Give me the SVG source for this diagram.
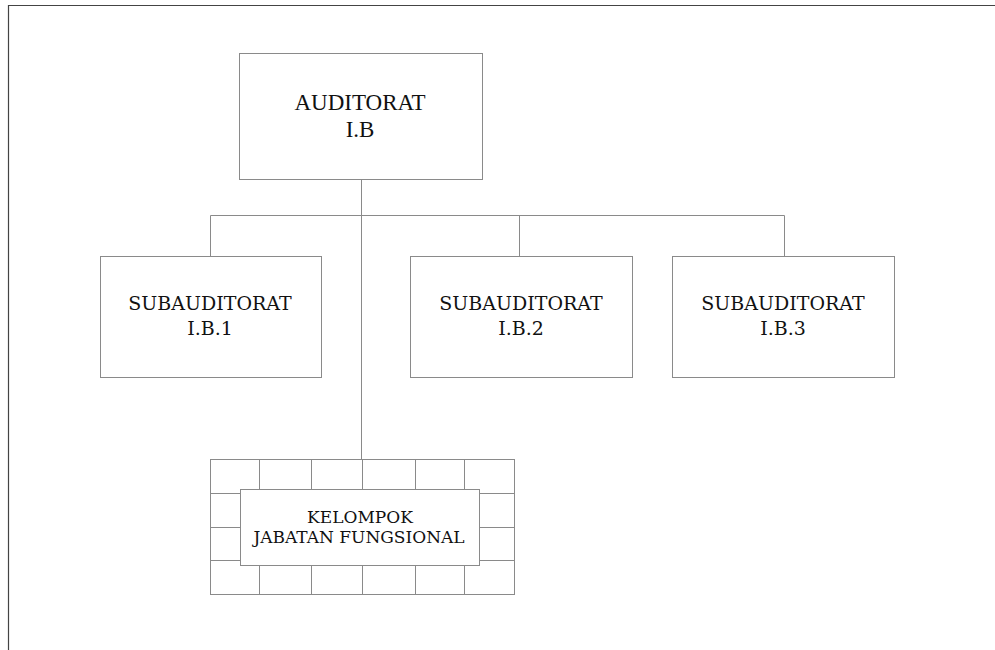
<svg xmlns="http://www.w3.org/2000/svg" width="995" height="650" viewBox="0 0 995 650">
<style>
.frame{stroke:#444;stroke-width:1.2;fill:none}
.box{fill:#fff;stroke:#8a8a8a;stroke-width:1}
.conn{stroke:#8a8a8a;stroke-width:1;fill:none}
.grid{stroke:#8a8a8a;stroke-width:1;fill:none}
.t1{font-family:"Liberation Serif","Times New Roman",serif;font-size:23px;fill:#111;text-anchor:middle}
.t2{font-family:"DejaVu Serif",serif;font-size:19px;fill:#111;text-anchor:middle}
.t3{font-family:"DejaVu Serif",serif;font-size:17px;fill:#111;text-anchor:middle}
</style>
<rect width="995" height="650" fill="#fff"/>
<path class="frame" d="M8.5,650 V5.5 H995"/>
<g id="connectors">
<path class="conn" d="M361.5,179.5 V459.5"/>
<path class="conn" d="M210.5,215.5 H784.5"/>
<path class="conn" d="M210.5,215.5 V256"/>
<path class="conn" d="M519.5,215.5 V256"/>
<path class="conn" d="M784.5,215.5 V256"/>
</g>
<g id="auditorat">
<rect class="box" x="239.5" y="53.5" width="243" height="126"/>
<text class="t1" x="360" y="110">AUDITORAT</text>
<text class="t1" x="360" y="137">I.B</text>
</g>
<g id="sub1">
<rect class="box" x="100.5" y="256.5" width="221" height="121"/>
<text class="t2" x="210" y="310">SUBAUDITORAT</text>
<text class="t2" x="210" y="335">I.B.1</text>
</g>
<g id="sub2">
<rect class="box" x="410.5" y="256.5" width="222" height="121"/>
<text class="t2" x="521" y="310">SUBAUDITORAT</text>
<text class="t2" x="521" y="335">I.B.2</text>
</g>
<g id="sub3">
<rect class="box" x="672.5" y="256.5" width="222" height="121"/>
<text class="t2" x="783" y="310">SUBAUDITORAT</text>
<text class="t2" x="783" y="335">I.B.3</text>
</g>
<g id="kelompok">
<rect class="grid" x="210.5" y="459.5" width="304" height="135"/>
<path class="grid" d="M259.5,459.5 V594.5 M311.5,459.5 V594.5 M362.5,459.5 V594.5 M415.5,459.5 V594.5 M464.5,459.5 V594.5 M210.5,493.5 H514.5 M210.5,527.5 H514.5 M210.5,560.5 H514.5"/>
<rect class="box" x="240.5" y="489.5" width="239" height="76"/>
<text class="t3" x="360" y="523">KELOMPOK</text>
<text class="t3" x="359" y="543">JABATAN FUNGSIONAL</text>
</g>
</svg>
